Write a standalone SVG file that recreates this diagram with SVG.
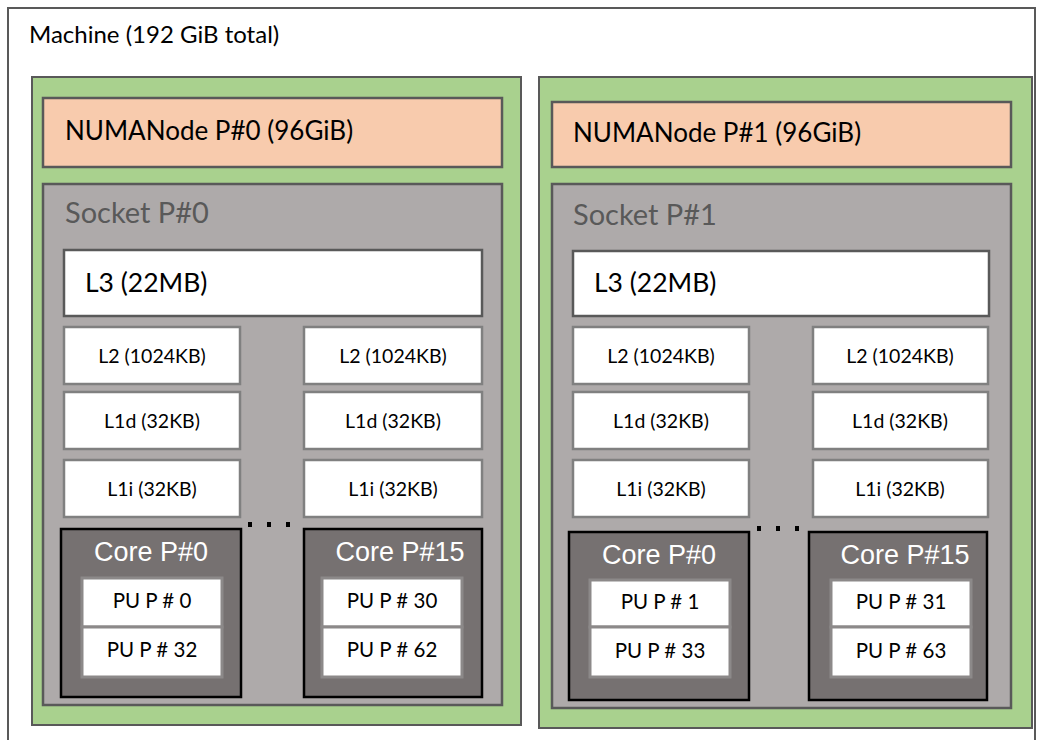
<svg xmlns="http://www.w3.org/2000/svg" width="1042" height="740" viewBox="0 0 1042 740">
<style>
.t{font-family:Lato,"Open Sans","Liberation Sans",sans-serif;fill:#000}
.ar{font-family:"Liberation Sans",Arial,sans-serif}
.machine{fill:#fff;stroke:#595959;stroke-width:2}
.numa{fill:#a9d18e;stroke:#595959;stroke-width:2}
.mem{fill:#f8cbad;stroke:#595959;stroke-width:2.5}
.sock{fill:#aeaaaa;stroke:#595959;stroke-width:2.5}
.l3{fill:#fff;stroke:#595959;stroke-width:2.5}
.lc{fill:#fff;stroke:#808080;stroke-width:2.5}
.core{fill:#767171;stroke:#000;stroke-width:2.5}
.pu{fill:#fff;stroke:#8c8989;stroke-width:3}
.dot{fill:#000}
.sm{font-size:19.5px}
.pt{font-size:20.5px}
.ct{font-size:27px;fill:#fff}
</style>
<g id="machine">
<rect class="machine" x="8" y="8" width="1027" height="745"/>
<text class="t" x="29" y="43" font-size="24">Machine (192 GiB total)</text>
</g>

<g id="numa0">
<rect class="numa" x="32" y="77" width="489" height="648"/>
</g>
<g id="numa0-mem">
<rect class="mem" x="43" y="98" width="459" height="69"/>
<text class="t" x="65" y="140" font-size="26">NUMANode P#0 (96GiB)</text>
</g>
<g id="socket0">
<rect class="sock" x="43" y="184" width="459" height="521"/>
<text class="t" x="65" y="223" font-size="29" style="fill:#595959">Socket P#0</text>
</g>
<g id="s0-l3">
<rect class="l3" x="64" y="250" width="418" height="66"/>
<text class="t" x="85" y="292" font-size="26.5">L3 (22MB)</text>
</g>
<g id="s0-c0-l2"><rect class="lc" x="64" y="327" width="176" height="57"/><text class="t sm" x="152" y="363" text-anchor="middle">L2 (1024KB)</text></g>
<g id="s0-c0-l1d"><rect class="lc" x="64" y="392" width="176" height="57"/><text class="t sm" x="152" y="428" text-anchor="middle">L1d (32KB)</text></g>
<g id="s0-c0-l1i"><rect class="lc" x="64" y="460" width="176" height="57"/><text class="t sm" x="152" y="496" text-anchor="middle">L1i (32KB)</text></g>
<g id="s0-c15-l2"><rect class="lc" x="304" y="327" width="178" height="57"/><text class="t sm" x="393" y="363" text-anchor="middle">L2 (1024KB)</text></g>
<g id="s0-c15-l1d"><rect class="lc" x="304" y="392" width="178" height="57"/><text class="t sm" x="393" y="428" text-anchor="middle">L1d (32KB)</text></g>
<g id="s0-c15-l1i"><rect class="lc" x="304" y="460" width="178" height="57"/><text class="t sm" x="393" y="496" text-anchor="middle">L1i (32KB)</text></g>
<g id="s0-dots"><rect class="dot" x="248" y="522" width="4" height="5"/><rect class="dot" x="267" y="522" width="4" height="5"/><rect class="dot" x="286" y="522" width="4" height="5"/></g>
<g id="s0-core0">
<rect class="core" x="61" y="529" width="180" height="168"/>
<text class="ar ct" x="151" y="561" text-anchor="middle">Core P#0</text>
</g>
<g id="s0-pu0"><rect class="pu" x="82" y="578" width="140" height="49"/><text class="t pt" x="152" y="608" text-anchor="middle">PU P # 0</text></g>
<g id="s0-pu32"><rect class="pu" x="82" y="627" width="140" height="50"/><text class="t pt" x="152" y="657" text-anchor="middle">PU P # 32</text></g>
<g id="s0-core15">
<rect class="core" x="304" y="529" width="178" height="168"/>
<text class="ar ct" x="400" y="561" text-anchor="middle">Core P#15</text>
</g>
<g id="s0-pu30"><rect class="pu" x="322" y="578" width="140" height="49"/><text class="t pt" x="392" y="608" text-anchor="middle">PU P # 30</text></g>
<g id="s0-pu62"><rect class="pu" x="322" y="627" width="140" height="50"/><text class="t pt" x="392" y="657" text-anchor="middle">PU P # 62</text></g>

<g id="numa1">
<rect class="numa" x="539" y="77" width="493" height="651"/>
</g>
<g id="numa1-mem">
<rect class="mem" x="552" y="102" width="459" height="65"/>
<text class="t" x="573" y="142" font-size="26">NUMANode P#1 (96GiB)</text>
</g>
<g id="socket1">
<rect class="sock" x="552" y="184" width="459" height="524"/>
<text class="t" x="573" y="225" font-size="29" style="fill:#595959">Socket P#1</text>
</g>
<g id="s1-l3">
<rect class="l3" x="573" y="251" width="416" height="65"/>
<text class="t" x="594" y="292" font-size="26.5">L3 (22MB)</text>
</g>
<g id="s1-c0-l2"><rect class="lc" x="573" y="327" width="176" height="57"/><text class="t sm" x="661" y="363" text-anchor="middle">L2 (1024KB)</text></g>
<g id="s1-c0-l1d"><rect class="lc" x="573" y="392" width="176" height="57"/><text class="t sm" x="661" y="428" text-anchor="middle">L1d (32KB)</text></g>
<g id="s1-c0-l1i"><rect class="lc" x="573" y="460" width="176" height="57"/><text class="t sm" x="661" y="496" text-anchor="middle">L1i (32KB)</text></g>
<g id="s1-c15-l2"><rect class="lc" x="813" y="327" width="175" height="57"/><text class="t sm" x="900" y="363" text-anchor="middle">L2 (1024KB)</text></g>
<g id="s1-c15-l1d"><rect class="lc" x="813" y="392" width="175" height="57"/><text class="t sm" x="900" y="428" text-anchor="middle">L1d (32KB)</text></g>
<g id="s1-c15-l1i"><rect class="lc" x="813" y="460" width="175" height="57"/><text class="t sm" x="900" y="496" text-anchor="middle">L1i (32KB)</text></g>
<g id="s1-dots"><rect class="dot" x="757" y="526" width="4" height="5"/><rect class="dot" x="776" y="526" width="4" height="5"/><rect class="dot" x="795" y="526" width="4" height="5"/></g>
<g id="s1-core0">
<rect class="core" x="569" y="532" width="180" height="168"/>
<text class="ar ct" x="659" y="564" text-anchor="middle">Core P#0</text>
</g>
<g id="s1-pu1"><rect class="pu" x="590" y="580" width="140" height="47"/><text class="t pt" x="660" y="609" text-anchor="middle">PU P # 1</text></g>
<g id="s1-pu33"><rect class="pu" x="590" y="627" width="140" height="50"/><text class="t pt" x="660" y="658" text-anchor="middle">PU P # 33</text></g>
<g id="s1-core15">
<rect class="core" x="809" y="532" width="178" height="168"/>
<text class="ar ct" x="905" y="564" text-anchor="middle">Core P#15</text>
</g>
<g id="s1-pu31"><rect class="pu" x="831" y="580" width="140" height="47"/><text class="t pt" x="901" y="609" text-anchor="middle">PU P # 31</text></g>
<g id="s1-pu63"><rect class="pu" x="831" y="627" width="140" height="50"/><text class="t pt" x="901" y="658" text-anchor="middle">PU P # 63</text></g>
<g id="connectors"/>
</svg>
